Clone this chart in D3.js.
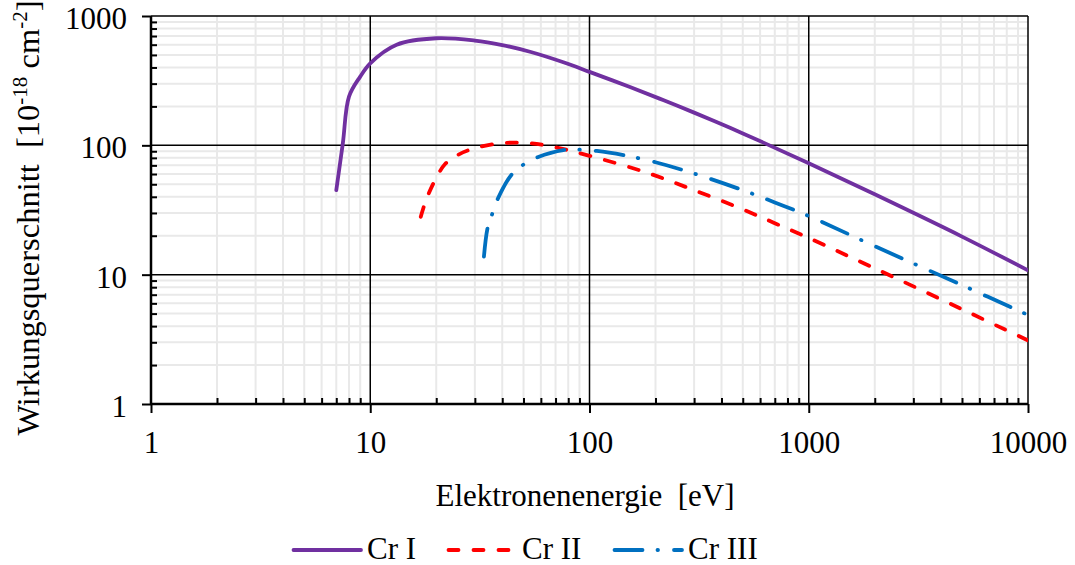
<!DOCTYPE html>
<html>
<head>
<meta charset="utf-8">
<script src="https://d3js.org/d3.v7.min.js"></script>
<style>
  body { margin: 0; background: #fff; }
  svg text { font-family: "Liberation Serif", serif; fill: #000; white-space: pre; }
</style>
</head>
<body>
<svg id="chart" width="1075" height="565"></svg>
<script>
// Cr I
const energyI = [7, 7.5, 8, 9, 10, 13.2, 20, 30, 40, 54, 76, 100, 154, 218, 300, 440, 625, 1000, 2000, 5000, 10000];
const sigmaI  = [45, 104, 238, 340, 431, 600, 673, 646, 596, 527, 439, 370, 281, 223, 179, 136, 104.5, 72.8, 41.8, 19.7, 10.8];
// Cr II
const energyII = [17, 18, 20, 22, 25, 30, 40, 53, 71, 100, 177, 300, 500, 700, 1000, 2000, 5000, 10000];
const sigmaII  = [28, 38, 56, 72, 84, 95, 104, 104, 96, 83, 62.6, 45, 32, 25, 19.2, 11.2, 5.4, 3.1];
// Cr III
const energyIII = [33, 34.3, 36, 38, 44, 50, 58, 76, 90, 108, 143, 200, 300, 500, 700, 1000, 2000, 5000, 10000];
const sigmaIII  = [13.8, 23, 29.5, 38, 59, 71, 81, 92, 92.5, 90.5, 84, 74, 60.5, 45, 36.2, 28.4, 16.6, 8.3, 4.88];

const seriesNames = ["Cr I", "Cr II", "Cr III"];
const xTicks = [1, 10, 100, 1000, 10000];
const yTicks = [1, 10, 100, 1000];

const series = [
  {name: seriesNames[0], x: energyI, y: sigmaI, color: "#7030A0", dash: null},
  {name: seriesNames[1], x: energyII, y: sigmaII, color: "#FF0000", dash: "10,15"},
  {name: seriesNames[2], x: energyIII, y: sigmaIII, color: "#0070C0", dash: "28,15,0.5,16"}
];

const FONT = "Liberation Serif";
const svg = d3.select("#chart");
const margin = {left: 151, right: 47, top: 16, bottom: 161};
const W = 1075, H = 565;
const iw = W - margin.left - margin.right, ih = H - margin.top - margin.bottom;

const x = d3.scaleLog().domain([1, 10000]).range([0, iw]);
const y = d3.scaleLog().domain([1, 1000]).range([ih, 0]);

const g = svg.append("g").attr("transform", `translate(${margin.left},${margin.top})`);

// minor values
const minorX = [], minorY = [];
for (let d = 1; d < 10000; d *= 10) for (let k = 2; k <= 9; k++) minorX.push(d * k);
for (let d = 1; d < 1000; d *= 10) for (let k = 2; k <= 9; k++) minorY.push(d * k);

// minor grid
g.append("g").selectAll("line").data(minorX).join("line")
  .attr("x1", d => x(d)).attr("x2", d => x(d)).attr("y1", 0).attr("y2", ih)
  .attr("stroke", "#e9e9e9").attr("stroke-width", 2);
g.append("g").selectAll("line").data(minorY).join("line")
  .attr("y1", d => y(d)).attr("y2", d => y(d)).attr("x1", 0).attr("x2", iw)
  .attr("stroke", "#e9e9e9").attr("stroke-width", 2);

// major grid
g.append("g").selectAll("line").data(xTicks.slice(1)).join("line")
  .attr("x1", d => x(d)).attr("x2", d => x(d)).attr("y1", 0).attr("y2", ih)
  .attr("stroke", "#000").attr("stroke-width", 1.5);
g.append("g").selectAll("line").data(yTicks.slice(1)).join("line")
  .attr("y1", d => y(d)).attr("y2", d => y(d)).attr("x1", 0).attr("x2", iw)
  .attr("stroke", "#000").attr("stroke-width", 1.5);

// x axis
const xAxis = g.append("g").attr("transform", `translate(0,${ih})`);
xAxis.append("g").call(d3.axisBottom(x).tickValues(minorX).tickSize(-6).tickFormat(""))
  .call(a => a.select(".domain").remove())
  .selectAll("line").attr("stroke-width", 2);
xAxis.append("g").call(d3.axisBottom(x).tickValues(xTicks).tickSize(9).tickPadding(18).tickFormat(d3.format("d")))
  .attr("font-family", FONT).attr("font-size", 31)
  .call(a => a.select(".domain").attr("stroke-width", 2.5).attr("d", `M0,0H${iw}`))
  .call(a => a.selectAll("line").attr("stroke-width", 2));

// y axis
const yAxis = g.append("g");
yAxis.append("g").call(d3.axisLeft(y).tickValues(minorY).tickSize(-6).tickFormat(""))
  .call(a => a.select(".domain").remove())
  .selectAll("line").attr("stroke-width", 2);
yAxis.append("g").call(d3.axisLeft(y).tickValues(yTicks).tickSize(9).tickPadding(15).tickFormat(d3.format("d")))
  .attr("font-family", FONT).attr("font-size", 31)
  .call(a => a.select(".domain").attr("stroke-width", 2.5).attr("d", `M0,${ih}V0`))
  .call(a => a.selectAll("line").attr("stroke-width", 2))
  .call(a => a.selectAll("text").attr("dy", "0.4em"));

// curves
g.append("clipPath").attr("id", "clip").append("rect").attr("width", iw).attr("height", ih);
const line = d3.line().x(d => x(d[0])).y(d => y(d[1])).curve(d3.curveCatmullRom.alpha(0.5));
g.append("g").attr("clip-path", "url(#clip)").selectAll("path").data(series).join("path")
  .attr("d", s => line(s.x.map((v, i) => [v, s.y[i]])))
  .attr("fill", "none")
  .attr("stroke", s => s.color)
  .attr("stroke-width", 3.8)
  .attr("stroke-linecap", "round")
  .attr("stroke-dasharray", s => s.dash);

// axis titles
svg.append("text").attr("x", 585).attr("y", 506).attr("text-anchor", "middle")
  .attr("font-family", FONT).attr("font-size", 31).text("Elektronenenergie  [eV]");

const yt = svg.append("text").attr("transform", "translate(39,218) rotate(-90)")
  .attr("text-anchor", "middle").attr("font-family", FONT).attr("font-size", 32.5);
yt.append("tspan").text("Wirkungsquerschnitt  [10");
yt.append("tspan").attr("dy", -12).attr("font-size", 21).text("-18");
yt.append("tspan").attr("dy", 12).text(" cm");
yt.append("tspan").attr("dy", -12).attr("font-size", 21).text("-2");
yt.append("tspan").attr("dy", 12).text("]");

// legend
const legendX = [292, 447, 613];
const leg = svg.append("g").selectAll("g").data(series).join("g")
  .attr("transform", (s, i) => `translate(${legendX[i]},550)`);
leg.append("line").attr("x1", 1.5).attr("x2", 69)
  .attr("stroke", s => s.color).attr("stroke-width", 3.8)
  .attr("stroke-linecap", "round").attr("stroke-dasharray", s => s.dash);
leg.append("text").attr("x", 75).attr("y", 9).attr("font-family", FONT).attr("font-size", 31).text(s => s.name);
</script>
</body>
</html>
